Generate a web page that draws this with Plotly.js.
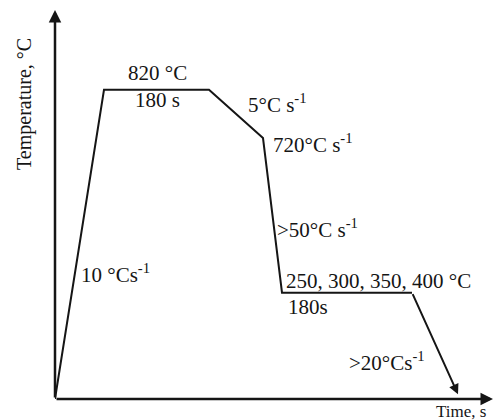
<!DOCTYPE html>
<html>
<head>
<meta charset="utf-8">
<script src="https://cdn.plot.ly/plotly-3.0.1.min.js"></script>
<style>
  html, body { margin: 0; padding: 0; background: #fff; }
  #chart { width: 496px; height: 420px; }
</style>
</head>
<body>
<div id="chart"></div>
<script>
// Heat-treatment schedule: heat, soak, slow cool, quench, isothermal hold, final cool.
// Schematic time axis; temperature in °C (the diagram is not to scale).
const time        = [0, 49, 154, 208, 227, 357, 403];
const temperature = [180, 820, 820, 720, 400, 400, 190];

// Stage annotations
const stageLabels = [
  "820 °C",
  "180 s",
  "5°C s<sup>-1</sup>",
  "720°C s<sup>-1</sup>",
  ">50°C s<sup>-1</sup>",
  "250, 300, 350, 400 °C",
  "180s",
  ">20°Cs<sup>-1</sup>",
  "10 °Cs<sup>-1</sup>"
];
const xTitle = "Time, s";
const yTitle = "Temperature, °C";

const W = 496, H = 420;
const M = { l: 55, r: 3, t: 10, b: 21 };
const plotW = W - M.l - M.r, plotH = H - M.t - M.b;
// page pixel -> paper fraction
const px = X => (X - M.l) / plotW;
const py = Y => (H - M.b - Y) / plotH;

const serif = "Liberation Serif, Times New Roman, serif";
const ink = "#151515";

// label placement: [x, y, xanchor]
const labelPos = [
  [157, 73, "center"],
  [157, 100, "center"],
  [246, 103, "left"],
  [271, 143, "left"],
  [275, 228, "left"],
  [284, 281, "left"],
  [286, 307, "left"],
  [347, 361, "left"],
  [79, 273, "left"]
];

const annotations = stageLabels.map((t, i) => ({
  text: t,
  xref: "paper", yref: "paper",
  x: px(labelPos[i][0]), y: py(labelPos[i][1]),
  xanchor: labelPos[i][2], yanchor: "middle",
  showarrow: false,
  font: { family: serif, size: 21, color: ink }
}));

// axis titles
annotations.push({
  text: xTitle, xref: "paper", yref: "paper",
  x: px(434), y: py(411), xanchor: "left", yanchor: "middle",
  showarrow: false, font: { family: serif, size: 17, color: ink }
});
annotations.push({
  text: yTitle, xref: "paper", yref: "paper",
  x: px(25), y: py(104), xanchor: "center", yanchor: "middle",
  textangle: -90,
  showarrow: false, font: { family: serif, size: 20, color: ink }
});

// axis arrows
annotations.push({
  text: "", xref: "paper", yref: "paper", x: 0, y: 1,
  ax: 0, ay: plotH, showarrow: true,
  arrowhead: 2, arrowsize: 1, arrowwidth: 2.5, arrowcolor: ink, standoff: 0
});
annotations.push({
  text: "", xref: "paper", yref: "paper", x: 1, y: 0,
  ax: -plotW, ay: 0, showarrow: true,
  arrowhead: 2, arrowsize: 1, arrowwidth: 2.5, arrowcolor: ink, standoff: 0
});

// final cooling segment ends in an arrow
const n = time.length;
annotations.push({
  text: "", xref: "x", yref: "y", axref: "x", ayref: "y",
  x: time[n - 1], y: temperature[n - 1],
  ax: time[n - 2], ay: temperature[n - 2],
  showarrow: true, arrowhead: 2, arrowsize: 1, arrowwidth: 2,
  arrowcolor: ink, standoff: 0
});

const trace = {
  x: time.slice(0, n - 1),
  y: temperature.slice(0, n - 1),
  mode: "lines",
  line: { color: ink, width: 2 },
  hoverinfo: "skip",
  cliponaxis: false
};

const layout = {
  width: W, height: H,
  margin: M,
  paper_bgcolor: "#fff", plot_bgcolor: "#fff",
  showlegend: false,
  xaxis: { range: [0, plotW], visible: false, fixedrange: true },
  yaxis: { range: [180, 985], visible: false, fixedrange: true },
  annotations: annotations
};

Plotly.newPlot("chart", [trace], layout, { staticPlot: true, displayModeBar: false });
</script>
</body>
</html>
